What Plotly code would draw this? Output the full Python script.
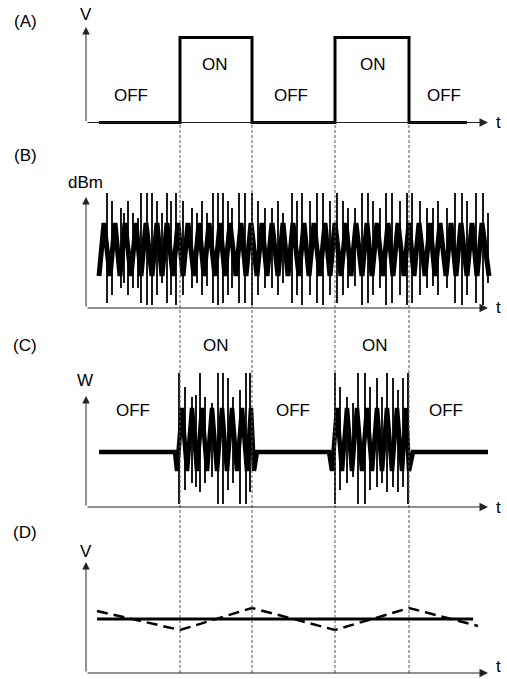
import plotly.graph_objects as go

W, H = 507, 679

# ---------------- data (time in arbitrary units, values in arbitrary units) -------------
switch_t = [94, 166, 249, 323]          # ON/OFF transition instants

# (A) control voltage: square wave
A_t = [13, 94, 166, 249, 323, 381]
A_v = [0, 85, 0, 85, 0, 0]

# (B) received power (dBm): noisy band + spikes
B_zig_t = [13, 18, 24, 29, 34, 39, 45, 50, 55, 60,
           66, 71, 76, 81, 87, 92, 97, 102, 108, 113,
           118, 123, 129, 134, 139, 144, 150, 155, 160, 165,
           171, 176, 181, 186, 192, 197, 202, 207, 213, 218,
           223, 228, 234, 239, 244, 249, 255, 260, 265, 270,
           276, 281, 286, 291, 297, 302, 307, 312, 318, 323,
           328, 333, 339, 344, 349, 354, 360, 365, 370, 375,
           381, 386, 391, 396, 403]
B_zig_v = [32, 85, 32, 85, 32, 85, 32, 85, 32, 85,
           32, 85, 32, 85, 32, 85, 32, 85, 32, 85,
           32, 85, 32, 85, 32, 85, 32, 85, 32, 85,
           32, 85, 32, 85, 32, 85, 32, 85, 32, 85,
           32, 85, 32, 85, 32, 85, 32, 85, 32, 85,
           32, 85, 32, 85, 32, 85, 32, 85, 32, 85,
           32, 85, 32, 85, 32, 85, 32, 85, 32, 85,
           32, 85, 32, 85, 32]
B_spk_t = [21, 26, 35, 38, 42, 47, 52, 55, 61, 66,
           71, 76, 81, 85, 90, 97, 106, 111, 116, 121,
           127, 132, 137, 142, 146, 153, 159, 166, 172, 179,
           186, 192, 197, 206, 211, 216, 224, 231, 237, 244,
           251, 257, 262, 269, 276, 282, 287, 294, 300, 306,
           314, 321, 326, 334, 341, 347, 352, 361, 369, 376,
           381, 390, 397, 402]
B_spk_top = [115, 107, 100, 95, 107, 95, 90, 115, 115, 115,
             107, 95, 115, 107, 115, 107, 100, 95, 107, 95,
             115, 115, 115, 107, 100, 115, 115, 115, 107, 100,
             100, 107, 95, 115, 107, 115, 107, 115, 115, 107,
             115, 107, 100, 100, 115, 115, 107, 100, 115, 115,
             107, 115, 115, 107, 100, 100, 107, 100, 115, 115,
             107, 115, 115, 95]
B_spk_bot = [5, 13, 20, 25, 13, 20, 20, 5, 3, 3,
             13, 25, 5, 13, 3, 13, 20, 25, 13, 22,
             5, 3, 5, 13, 20, 5, 5, 3, 13, 20,
             20, 13, 25, 5, 13, 3, 13, 5, 3, 13,
             5, 13, 20, 22, 3, 5, 13, 20, 3, 5,
             13, 3, 5, 13, 20, 22, 13, 20, 5, 3,
             13, 5, 3, 25]

# (C) output power (W)
C_t = [13, 89, 91, 96, 101, 106, 111, 116, 121, 126,
       131, 136, 141, 146, 151, 156, 161, 165, 168, 171,
       243, 246, 251, 256, 261, 266, 271, 276, 281, 286,
       291, 296, 301, 306, 311, 316, 320, 323, 327, 402]
C_v = [55, 55, 36, 99, 36, 99, 36, 99, 36, 99,
       36, 99, 36, 99, 36, 99, 36, 99, 36, 55,
       55, 36, 99, 36, 99, 36, 99, 36, 99, 36,
       99, 36, 99, 36, 99, 36, 99, 36, 55, 55]
C_spk_t = [93, 99, 106, 110, 114, 119, 126, 132, 137, 142, 147, 154, 160, 164,
           249, 254, 261, 267, 272, 279, 284, 291, 296, 301, 307, 312, 317, 322]
C_spk_top = [134, 120, 110, 112, 134, 110, 104, 134, 134, 129, 110, 117, 134, 134,
             134, 120, 110, 104, 134, 134, 120, 129, 110, 134, 129, 117, 129, 134]
C_spk_bot = [3, 17, 24, 20, 15, 24, 30, 3, 3, 17, 24, 3, 3, 15,
             3, 17, 24, 30, 3, 3, 17, 20, 24, 15, 20, 15, 20, 3]

# (D) voltage: constant (solid) and drifting (dashed)
D_solid_t = [11, 387]
D_solid_v = [54, 54]
D_dash_t = [11, 94, 166, 249, 323, 392]
D_dash_v = [62, 43, 65, 43, 65, 47]

# ---------------- layout geometry (pixels) ----------------
ORIGIN_X = 86
panels = {  # name: (baseline px, headroom, y-arrow tip value)
    "y":  (122.5, 100, 95.5),
    "y2": (308, 125, 111),
    "y3": (507, 140, 111),
    "y4": (673, 120, 111),
}
PAD = 5
X_TIP = 402

def spikes(ts, tops, bots):
    xs, ys = [], []
    for t, a, b in zip(ts, tops, bots):
        xs += [t, t, None]
        ys += [b, a, None]
    return xs, ys

fig = go.Figure()
black = "#000000"

fig.add_trace(go.Scatter(x=A_t, y=A_v, mode="lines", line=dict(color=black, width=3, shape="hv"),
                         xaxis="x", yaxis="y"))
fig.add_trace(go.Scatter(x=B_zig_t, y=B_zig_v, mode="lines", line=dict(color=black, width=5),
                         xaxis="x", yaxis="y2"))
sx, sy = spikes(B_spk_t, B_spk_top, B_spk_bot)
fig.add_trace(go.Scatter(x=sx, y=sy, mode="lines", line=dict(color=black, width=1.8),
                         xaxis="x", yaxis="y2"))
fig.add_trace(go.Scatter(x=C_t, y=C_v, mode="lines", line=dict(color=black, width=4.5),
                         xaxis="x", yaxis="y3"))
sx, sy = spikes(C_spk_t, C_spk_top, C_spk_bot)
fig.add_trace(go.Scatter(x=sx, y=sy, mode="lines", line=dict(color=black, width=1.8),
                         xaxis="x", yaxis="y3"))
fig.add_trace(go.Scatter(x=D_solid_t, y=D_solid_v, mode="lines", line=dict(color=black, width=3),
                         xaxis="x", yaxis="y4"))
fig.add_trace(go.Scatter(x=D_dash_t, y=D_dash_v, mode="lines",
                         line=dict(color=black, width=2.5, dash="11px,6px"),
                         xaxis="x", yaxis="y4"))

layout = dict(
    width=W, height=H, margin=dict(l=0, r=0, t=0, b=0),
    paper_bgcolor="white", plot_bgcolor="rgba(0,0,0,0)", showlegend=False,
    xaxis=dict(domain=[0, 1], range=[-ORIGIN_X, W - ORIGIN_X], visible=False, fixedrange=True),
)
for name, (base, R, tip) in panels.items():
    key = "yaxis" if name == "y" else "yaxis" + name[1:]
    layout[key] = dict(domain=[1 - (base + PAD) / H, 1 - (base - R) / H],
                       range=[-PAD, R], visible=False, anchor="x", fixedrange=True)
fig.update_layout(**layout)

annotations = []
axis_col = "#222222"
for name, (base, R, tip) in panels.items():
    # y axis arrow
    annotations.append(dict(x=0, y=tip, ax=0, ay=0, xref="x", yref=name, axref="x", ayref=name,
                            text="", showarrow=True, arrowhead=2, arrowsize=1.5, arrowwidth=1,
                            arrowcolor=axis_col, standoff=0, startstandoff=0))
    # x axis arrow
    annotations.append(dict(x=X_TIP, y=0, ax=0, ay=0, xref="x", yref=name, axref="x", ayref=name,
                            text="", showarrow=True, arrowhead=2, arrowsize=1.7, arrowwidth=1,
                            arrowcolor=axis_col, standoff=0, startstandoff=0))

def label(text, xpx, ypx):
    annotations.append(dict(x=xpx / W, y=1 - ypx / H, xref="paper", yref="paper", text=text,
                            showarrow=False, xanchor="center", yanchor="middle",
                            font=dict(family="Liberation Sans, Arial, sans-serif", size=17, color=black)))

label("(A)", 25, 22)
label("V", 86, 14)
label("OFF", 131, 96)
label("ON", 215, 64)
label("OFF", 291, 96)
label("ON", 373, 64)
label("OFF", 444, 96)
label("t", 498, 122)

label("(B)", 25, 156)
label("dBm", 85, 183)
label("t", 498, 308)

label("(C)", 25, 345)
label("ON", 216, 345)
label("ON", 375, 345)
label("W", 85, 380)
label("OFF", 133, 410)
label("OFF", 293, 410)
label("OFF", 446, 410)
label("t", 498, 507)

label("(D)", 25, 532)
label("V", 86, 551)
label("t", 498, 666)

fig.update_layout(annotations=annotations)

shapes = []
for t in switch_t:
    shapes.append(dict(type="line", xref="x", yref="paper", x0=t, x1=t,
                       y0=1 - 673 / H, y1=1 - 123 / H,
                       line=dict(color="#555555", width=1, dash="3px,2px"), layer="above"))
fig.update_layout(shapes=shapes)

fig.write_html("out.html")
